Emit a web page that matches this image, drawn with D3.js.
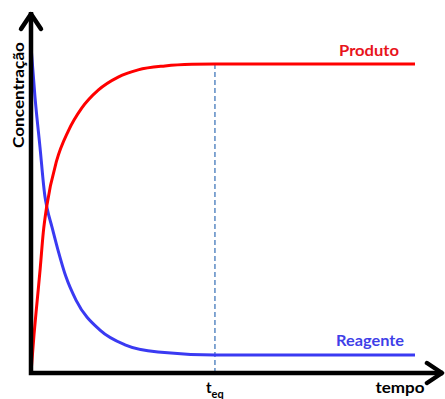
<!DOCTYPE html>
<html>
<head>
<meta charset="utf-8">
<script src="https://cdn.jsdelivr.net/npm/d3@7"></script>
<style>
  html, body { margin: 0; padding: 0; background: #ffffff; }
  svg { display: block; }
  text { font-family: Lato, "Open Sans", sans-serif; font-weight: bold; }
</style>
</head>
<body>
<svg id="chart" width="445" height="399"></svg>
<script>
// Produto (formed) concentration over time
const tempoProduto = [0, 0.08, 0.16, 0.24, 0.32, 0.41, 0.67, 0.97, 1.32, 1.75, 2.27, 2.79, 3.49, 4.19, 4.79, 10];
const concProduto  = [0, 0.12, 0.22, 0.32, 0.43, 0.51, 0.65, 0.74, 0.81, 0.865, 0.905, 0.927, 0.939, 0.944, 0.945, 0.945];

// Reagente (consumed) concentration over time
const tempoReagente = [0, 0.104, 0.234, 0.365, 0.417, 0.547, 0.703, 0.911, 1.172, 1.797, 2.448, 3.307, 4.79, 10];
const concReagente  = [1.0, 0.844, 0.691, 0.538, 0.505, 0.446, 0.376, 0.294, 0.223, 0.131, 0.086, 0.064, 0.055, 0.055];

// Time at which equilibrium is reached
const tEq = 4.79;

// Labels
const seriesLabels = ["Produto", "Reagente"];
const axisLabels = { x: "tempo", y: "Concentração" };
const eqLabel = ["t", "eq"];

const svg = d3.select("#chart");

const x = d3.scaleLinear().domain([0, 10]).range([31, 415]);
const y = d3.scaleLinear().domain([0, 1]).range([373, 46]);

const red = "#ff0000";
const blue = "#3a3af2";

// Dashed marker at equilibrium
svg.append("line")
  .attr("x1", x(tEq)).attr("x2", x(tEq))
  .attr("y1", y(concProduto[concProduto.length - 1])).attr("y2", y(0))
  .attr("stroke", "#5b8ac4")
  .attr("stroke-width", 1.5)
  .attr("stroke-dasharray", "5,3");

const line = d3.line()
  .x(d => x(d[0]))
  .y(d => y(d[1]))
  .curve(d3.curveMonotoneX);

const produto = tempoProduto.map((t, i) => [t, concProduto[i]]);
const reagente = tempoReagente.map((t, i) => [t, concReagente[i]]);

svg.append("path").datum(reagente)
  .attr("d", line).attr("fill", "none")
  .attr("stroke", blue).attr("stroke-width", 3);

svg.append("path").datum(produto)
  .attr("d", line).attr("fill", "none")
  .attr("stroke", red).attr("stroke-width", 3);

// Axes with arrow heads
const x0 = x(0), yBase = y(0);
const yTop = 12, xEnd = 443;
svg.append("path")
  .attr("d", `M${x0},${yTop} L${x0},${yBase} L${xEnd},${yBase}`)
  .attr("fill", "none").attr("stroke", "#000")
  .attr("stroke-width", 4.5).attr("stroke-linejoin", "miter");
svg.append("path")
  .attr("d", `M${x0 - 10},${yTop + 17} L${x0},${yTop + 2} L${x0 + 10},${yTop + 17}`)
  .attr("fill", "none").attr("stroke", "#000")
  .attr("stroke-width", 4.5).attr("stroke-linecap", "round").attr("stroke-linejoin", "round");
svg.append("path")
  .attr("d", `M${xEnd - 16},${yBase - 10} L${xEnd - 1},${yBase} L${xEnd - 16},${yBase + 10}`)
  .attr("fill", "none").attr("stroke", "#000")
  .attr("stroke-width", 4.5).attr("stroke-linecap", "round").attr("stroke-linejoin", "round");

// Series labels
svg.append("text")
  .attr("x", 369).attr("y", 56)
  .attr("text-anchor", "middle")
  .attr("font-size", 15).attr("fill", "#e8141c")
  .attr("textLength", 60).attr("lengthAdjust", "spacingAndGlyphs")
  .text(seriesLabels[0]);

svg.append("text")
  .attr("x", 370).attr("y", 346)
  .attr("text-anchor", "middle")
  .attr("font-size", 15).attr("fill", "#3f3fe8")
  .attr("textLength", 68).attr("lengthAdjust", "spacingAndGlyphs")
  .text(seriesLabels[1]);

// Axis labels
svg.append("text")
  .attr("x", 400).attr("y", 393)
  .attr("text-anchor", "middle")
  .attr("font-size", 15).attr("fill", "#000")
  .attr("textLength", 49).attr("lengthAdjust", "spacingAndGlyphs")
  .text(axisLabels.x);

svg.append("text")
  .attr("transform", "translate(24,95) rotate(-90)")
  .attr("text-anchor", "middle")
  .attr("font-size", 15).attr("fill", "#000")
  .attr("textLength", 106).attr("lengthAdjust", "spacingAndGlyphs")
  .text(axisLabels.y);

const teq = svg.append("text")
  .attr("x", x(tEq) - 9).attr("y", 393)
  .attr("font-size", 15).attr("fill", "#000");
teq.append("tspan").text(eqLabel[0]);
teq.append("tspan").attr("dy", 5).attr("font-size", 11).text(eqLabel[1]);
</script>
</body>
</html>
